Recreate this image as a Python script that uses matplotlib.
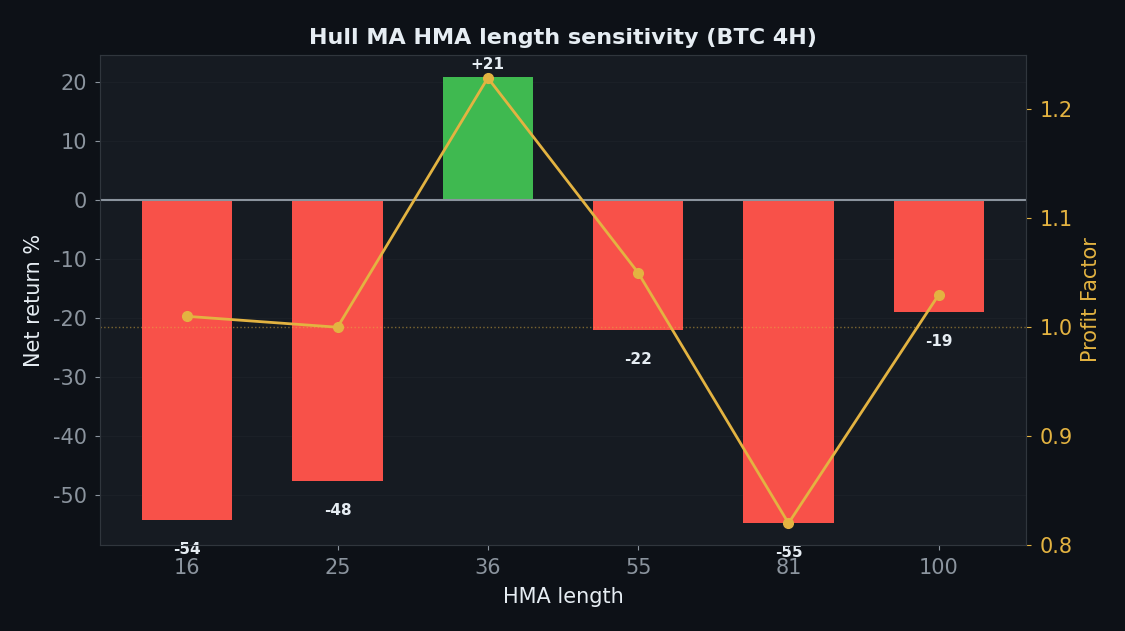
import matplotlib
matplotlib.use("Agg")
import matplotlib.pyplot as plt
import numpy as np

plt.rcParams["axes.unicode_minus"] = False

# HMA length sweep results (BTC 4H)
lengths = ["16", "25", "36", "55", "81", "100"]
net_return = [-54.2, -47.6, 20.8, -22.0, -54.7, -19.0]
return_labels = ["-54", "-48", "+21", "-22", "-55", "-19"]
profit_factor = [1.010, 1.000, 1.229, 1.050, 0.820, 1.030]

BG = "#0d1117"
PANEL = "#161b22"
RED = "#f85149"
GREEN = "#3fb950"
GOLD = "#e3b341"
MUTED = "#8b949e"
TEXT = "#e6edf3"
EDGE = "#30363d"

fig = plt.figure(figsize=(11.25, 6.31), dpi=100, facecolor=BG)
ax = fig.add_axes([0.0889, 0.1363, 0.8231, 0.7765])
ax.set_facecolor(PANEL)

x = np.arange(len(lengths))
colors = [GREEN if v > 0 else RED for v in net_return]
ax.bar(x, net_return, width=0.6, color=colors, zorder=2)
ax.axhline(0, color=MUTED, lw=1.5, zorder=3)

for xi, v, lab in zip(x, net_return, return_labels):
    if v >= 0:
        ax.text(xi, v + 1.0, lab, ha="center", va="bottom", color=TEXT,
                fontsize=11, fontweight="bold", zorder=5)
    else:
        ax.text(xi, v - 5, lab, ha="center", va="center", color=TEXT,
                fontsize=11, fontweight="bold", zorder=5)

ax.set_xticks(x)
ax.set_xticklabels(lengths)
ax.set_ylim(-58.5, 24.6)
ax.grid(axis="y", color="#ffffff", alpha=0.025, lw=1)
ax.set_axisbelow(True)
ax.tick_params(colors=MUTED, labelsize=15, pad=6)
ax.set_xlabel("HMA length", color=TEXT, fontsize=15, labelpad=6)
ax.set_ylabel("Net return %", color=TEXT, fontsize=15, labelpad=6)
for s in ax.spines.values():
    s.set_color(EDGE)

ax2 = ax.twinx()
ax2.plot(x, profit_factor, color=GOLD, lw=2, marker="o", markersize=7, zorder=4)
ax2.axhline(1.0, color=GOLD, lw=1, ls=":", alpha=0.5)
ax2.set_ylim(0.8, 1.25)
ax2.set_yticks([0.8, 0.9, 1.0, 1.1, 1.2])
ax2.tick_params(axis="y", colors=GOLD, labelsize=15, pad=6)
ax2.set_ylabel("Profit Factor", color=GOLD, fontsize=15, labelpad=6)
for s in ax2.spines.values():
    s.set_color(EDGE)

ax.set_title("Hull MA HMA length sensitivity (BTC 4H)", color=TEXT,
             fontsize=16, fontweight="bold", pad=8)

fig.savefig("out.png", dpi=100, facecolor=BG)
